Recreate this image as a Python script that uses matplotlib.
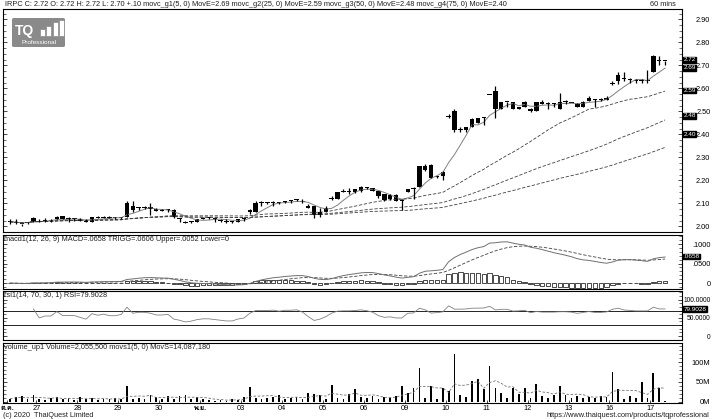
import numpy as np
import pandas as pd
import matplotlib
matplotlib.use('Agg')
import matplotlib.pyplot as plt
import matplotlib.transforms as mtransforms
from matplotlib import font_manager, ft2font
from matplotlib.patches import FancyBboxPatch, Rectangle

# find an installed face that has Thai letters for the month labels
thai_family = None
for fe in font_manager.fontManager.ttflist:
    try:
        if 0x0E04 in ft2font.FT2Font(fe.fname).get_charmap():
            thai_family = fe.name
            break
    except Exception:
        pass
families = ['Liberation Sans', 'DejaVu Sans']
if thai_family:
    families.insert(1, thai_family)
plt.rcParams['font.family'] = families

W, H = 712, 419

# ---- data (IRPC, 60 min bars) ----
day_labels = ['ต.ค.', '27', '28', '29', '30', 'พ.ย.', '03', '04', '05', '06',
              '09', '10', '11', '12', '13', '16', '17']
day_starts = [0, 5, 12, 19, 26, 33, 40, 47, 54, 61, 68, 75, 82, 89, 96, 103, 110]

opens = [2.02, 2.02, 2.01, 2.015, 2.02,
         2.025, 2.025, 2.025, 2.03, 2.045, 2.03, 2.03,
         2.03, 2.025, 2.02, 2.04, 2.035, 2.04, 2.035,
         2.035, 2.04, 2.09, 2.08, 2.08, 2.085, 2.075,
         2.07, 2.07, 2.07, 2.03, 2.02, 2.02, 2.02,
         2.03, 2.035, 2.03, 2.025, 2.025, 2.02, 2.02,
         2.03, 2.06, 2.06, 2.10, 2.10, 2.10, 2.10,
         2.105, 2.11, 2.115, 2.11, 2.09, 2.09, 2.05,
         2.06, 2.12, 2.12, 2.15, 2.15, 2.15, 2.155,
         2.165, 2.165, 2.155, 2.14, 2.135, 2.135, 2.115,
         2.15, 2.16, 2.17, 2.26, 2.265, 2.215, 2.22,
         2.48, 2.50, 2.42, 2.42, 2.43, 2.45, 2.47,
         2.57, 2.59, 2.51, 2.54, 2.54, 2.51, 2.52,
         2.51, 2.50, 2.54, 2.53, 2.53, 2.51, 2.54,
         2.535, 2.53, 2.52, 2.545, 2.55, 2.55, 2.55,
         2.62, 2.63, 2.64, 2.635, 2.63, 2.63, 2.63,
         2.67, 2.72, 2.72]
highs = [2.03, 2.03, 2.01, 2.02, 2.04,
         2.03, 2.035, 2.03, 2.045, 2.045, 2.04, 2.035,
         2.035, 2.03, 2.04, 2.045, 2.045, 2.045, 2.04,
         2.04, 2.11, 2.11, 2.085, 2.09, 2.10, 2.08,
         2.075, 2.075, 2.075, 2.035, 2.025, 2.025, 2.03,
         2.04, 2.04, 2.035, 2.03, 2.03, 2.025, 2.03,
         2.04, 2.075, 2.11, 2.11, 2.105, 2.11, 2.105,
         2.11, 2.115, 2.12, 2.12, 2.095, 2.09, 2.08,
         2.09, 2.13, 2.15, 2.16, 2.165, 2.16, 2.175,
         2.17, 2.165, 2.155, 2.14, 2.14, 2.14, 2.12,
         2.16, 2.17, 2.26, 2.27, 2.27, 2.22, 2.24,
         2.49, 2.51, 2.43, 2.43, 2.47, 2.47, 2.475,
         2.57, 2.61, 2.54, 2.54, 2.54, 2.52, 2.545,
         2.515, 2.54, 2.55, 2.54, 2.535, 2.58, 2.55,
         2.535, 2.535, 2.545, 2.565, 2.555, 2.56, 2.565,
         2.63, 2.67, 2.67, 2.645, 2.64, 2.64, 2.68,
         2.745, 2.74, 2.72]
lows = [2.01, 2.01, 2.00, 2.01, 2.02,
        2.02, 2.02, 2.02, 2.03, 2.03, 2.02, 2.025,
        2.025, 2.02, 2.02, 2.035, 2.035, 2.035, 2.03,
        2.03, 2.04, 2.06, 2.07, 2.075, 2.05, 2.065,
        2.065, 2.06, 2.035, 2.02, 2.015, 2.015, 2.02,
        2.03, 2.03, 2.02, 2.02, 2.015, 2.015, 2.02,
        2.025, 2.055, 2.06, 2.09, 2.095, 2.09, 2.095,
        2.10, 2.10, 2.11, 2.10, 2.08, 2.035, 2.04,
        2.06, 2.115, 2.12, 2.15, 2.14, 2.145, 2.15,
        2.16, 2.155, 2.125, 2.11, 2.115, 2.11, 2.07,
        2.15, 2.12, 2.17, 2.24, 2.21, 2.21, 2.20,
        2.47, 2.41, 2.41, 2.41, 2.43, 2.45, 2.44,
        2.57, 2.47, 2.51, 2.52, 2.51, 2.51, 2.52,
        2.495, 2.50, 2.53, 2.51, 2.52, 2.51, 2.53,
        2.535, 2.52, 2.52, 2.545, 2.52, 2.545, 2.55,
        2.615, 2.62, 2.63, 2.625, 2.625, 2.625, 2.625,
        2.67, 2.70, 2.70]
closes = [2.02, 2.015, 2.01, 2.02, 2.035,
          2.02, 2.025, 2.025, 2.04, 2.03, 2.03, 2.03,
          2.025, 2.02, 2.04, 2.035, 2.04, 2.035, 2.035,
          2.04, 2.10, 2.07, 2.08, 2.08, 2.075, 2.065,
          2.065, 2.07, 2.04, 2.03, 2.015, 2.02, 2.03,
          2.035, 2.035, 2.03, 2.025, 2.02, 2.02, 2.03,
          2.035, 2.07, 2.10, 2.10, 2.10, 2.105, 2.10,
          2.11, 2.11, 2.115, 2.105, 2.08, 2.05, 2.06,
          2.08, 2.12, 2.15, 2.155, 2.155, 2.16, 2.17,
          2.165, 2.155, 2.13, 2.115, 2.12, 2.11, 2.11,
          2.16, 2.165, 2.26, 2.245, 2.21, 2.22, 2.235,
          2.475, 2.42, 2.42, 2.43, 2.465, 2.47, 2.475,
          2.57, 2.51, 2.54, 2.54, 2.51, 2.52, 2.54,
          2.50, 2.54, 2.53, 2.53, 2.53, 2.54, 2.54,
          2.535, 2.52, 2.54, 2.56, 2.55, 2.55, 2.56,
          2.625, 2.66, 2.64, 2.635, 2.63, 2.63, 2.63,
          2.74, 2.72, 2.72]
# volume in millions of shares
volumes = [8, 12, 14, 6, 16, 8, 5, 10, 12, 6,
           10, 4, 12, 6, 10, 5, 8, 6, 9, 6,
           40, 8, 10, 6, 18, 12, 8, 14, 6, 14,
           16, 8, 12, 6, 4, 3, 5, 3, 8, 5,
           12, 37, 10, 8, 10, 12, 18, 6, 10, 12,
           6, 22, 20, 18, 6, 42, 10, 8, 20, 32,
           12, 10, 14, 8, 12, 10, 14,
           39, 23, 35, 84, 10, 39, 6, 35, 27, 120,
           16, 13, 53, 57, 31, 89, 35, 21, 10, 35,
           19, 35, 10, 45, 15, 10, 16, 39, 16, 10,
           15, 10, 13, 10, 15, 13, 76, 32, 8, 15,
           10, 51, 10, 72, 35, 2.06]

ma_periods = [5, 25, 50, 75]
ma_last = [2.69, 2.59, 2.48, 2.40]
macd_last = 0.0658
rsi_last = 79.9028

header = ("IRPC C: 2.72 O: 2.72 H: 2.72 L: 2.70 +.10 movc_g1(5, 0) MovE=2.69 "
          "movc_g2(25, 0) MovE=2.59 movc_g3(50, 0) MovE=2.48 movc_g4(75, 0) MovE=2.40")
macd_title = "macd1(12, 26, 9) MACD=.0658 TRIGG=.0606 Upper=.0052 Lower=0"
rsi_title = "rsi1(14, 70, 30, 1) RSI=79.9028"
vol_title = "volume_up1 Volume=2,055,500 movs1(5, 0) MovS=14,087,180"

# ---- derived series ----
c = pd.Series(closes)
x = np.arange(len(closes))
mas = [c.rolling(n, min_periods=1).mean() for n in ma_periods]
ema12 = c.ewm(span=12, adjust=False).mean()
ema26 = c.ewm(span=26, adjust=False).mean()
macd = ema12 - ema26
trigg = macd.ewm(span=9, adjust=False).mean()
hist = macd - trigg
d = c.diff()
up = d.clip(lower=0).ewm(alpha=1 / 14, min_periods=4).mean()
dn = (-d.clip(upper=0)).ewm(alpha=1 / 14, min_periods=4).mean()
rsi = 100 * up / (up + dn)
vol = pd.Series(volumes)
vol_ma = vol.rolling(5, min_periods=1).mean()

FS = 5.3
TAG_FS = 4.6
fig = plt.figure(figsize=(W / 100, H / 100), dpi=100)


def px_axes(x0, y0, x1, y1):
    return fig.add_axes([x0 / W, 1 - y1 / H, (x1 - x0) / W, (y1 - y0) / H])


LEFT, RIGHT = 3, 682
ax_p = px_axes(LEFT, 9, RIGHT, 232)
ax_m = px_axes(LEFT, 235, RIGHT, 289)
ax_r = px_axes(LEFT, 291, RIGHT, 340)
ax_v = px_axes(LEFT, 343, RIGHT, 403)

for ax in (ax_p, ax_m, ax_r, ax_v):
    ax.set_xlim(-1.2, 114.9)
    for s in ax.spines.values():
        s.set_linewidth(0.8)
    ax.yaxis.tick_right()
    ax.tick_params(axis='y', which='both', direction='in', labelsize=FS,
                   left=True, right=True, pad=20.5)
    ax.tick_params(axis='y', which='major', length=3, width=0.5)
    ax.tick_params(axis='y', which='minor', length=2, width=0.4)
    ax.tick_params(axis='x', which='both', bottom=False, labelbottom=False)

# price panel
styles = [dict(color='#808080', lw=0.7, ls='-'),
          dict(color='#404040', lw=0.6, ls=(0, (4, 2))),
          dict(color='#404040', lw=0.6, ls=(0, (4, 2))),
          dict(color='#404040', lw=0.6, ls=(0, (4, 2)))]
for m, st in zip(mas, styles):
    ax_p.plot(x, m, **st)
ax_p.vlines(x, lows, highs, color='black', lw=0.9)
o = np.array(opens)
cl = np.array(closes)
body_lo = np.minimum(o, cl)
body_h = np.maximum(np.abs(cl - o), 0.004)
ax_p.bar(x, body_h, bottom=body_lo, width=0.75, color='black', linewidth=0)
ax_p.set_ylim(1.975, 2.945)
ax_p.set_yticks(np.arange(2.0, 2.91, 0.1))
ax_p.set_yticklabels([f"{v:.2f}" for v in np.arange(2.0, 2.91, 0.1)])
ax_p.set_yticks(np.arange(1.975, 2.95, 0.025), minor=True)

# MACD panel
ax_m.bar(x, hist, width=0.75, facecolor='white', edgecolor='black', linewidth=0.5)
ax_m.plot(x, trigg, color='#404040', lw=0.6, ls=(0, (4, 2)))
ax_m.plot(x, macd, color='#707070', lw=0.7)
ax_m.set_ylim(-0.015, 0.123)
ax_m.set_yticks([0, 0.05, 0.1])
ax_m.set_yticklabels(['0', '.0500', '.1000'])
ax_m.set_yticks(np.arange(-0.01, 0.121, 0.01), minor=True)

# RSI panel
ax_r.axhline(70, color='black', lw=0.6)
ax_r.axhline(30, color='black', lw=0.6)
ax_r.plot(x, rsi, color='#808080', lw=0.6)
ax_r.set_ylim(-11, 124)
ax_r.set_yticks([0, 50, 100])
ax_r.set_yticklabels(['0', '50.0000', '100.0000'])
ax_r.set_yticks(np.arange(-10, 121, 10), minor=True)

# volume panel
ax_v.bar(x, vol, width=0.3, color='black', linewidth=0)
ax_v.plot(x, vol_ma, color='#707070', lw=0.6, ls=(0, (3, 2)))
ax_v.set_ylim(-3, 148)
ax_v.set_yticks([0, 50, 100])
ax_v.set_yticklabels(['0M', '50M', '100M'])
ax_v.set_yticks(np.arange(0, 141, 10), minor=True)
ax_v.set_xticks(np.array(day_starts) - 0.5)
ax_v.set_xticklabels(day_labels)
ax_v.tick_params(axis='x', which='major', bottom=True, labelbottom=True,
                 direction='in', length=2, width=0.5, labelsize=FS, pad=1.5)
for lab, txt in zip(ax_v.get_xticklabels(), day_labels):
    if not txt.isdigit():
        lab.set_fontweight('bold')

for ax in (ax_p, ax_m, ax_r, ax_v):
    for lab in ax.get_yticklabels():
        lab.set_horizontalalignment('right')
for lab in ax_r.get_yticklabels():
    lab.set_fontsize(4.8)

# panel titles
for ax, t in ((ax_m, macd_title), (ax_r, rsi_title), (ax_v, vol_title)):
    ax.text(0.002, 0.985, t, transform=ax.transAxes, fontsize=FS,
            va='top', ha='left', color='#202020')
fig.text(5 / W, 1 - 1 / H, header, fontsize=FS, va='top', ha='left', color='#202020')
fig.text(650 / W, 1 - 1 / H, "60 mins", fontsize=FS, va='top', ha='left', color='#202020')
fig.text(3 / W, 1 - 412 / H, "(c) 2020  ThaiQuest Limited", fontsize=FS, va='top',
         ha='left', color='#202020')
fig.text(709 / W, 1 - 412 / H, "https://www.thaiquest.com/products/tqprofessional",
         fontsize=FS, va='top', ha='right', color='#202020')

# boxed value labels on the right axis
box = dict(boxstyle='square,pad=0.06', fc='black', ec='black')


def value_tag(ax, y, text):
    tr = mtransforms.blended_transform_factory(ax.transAxes, ax.transData)
    ax.text(1.002, y, text, transform=tr, fontsize=TAG_FS, color='white', va='center',
            ha='left', bbox=box, clip_on=False)


value_tag(ax_p, closes[-1] + 0.004, f"{closes[-1]:.2f}")
for v in ma_last:
    value_tag(ax_p, v, f"{v:.2f}")
value_tag(ax_m, macd_last + 0.002, ".0658")
value_tag(ax_r, rsi_last - 6, f"{rsi_last:.4f}")

# TQ Professional logo
fig.patches.append(FancyBboxPatch((12 / W, 1 - 47 / H), 53 / W, 29 / H,
                                  boxstyle='round,pad=0,rounding_size=0.003',
                                  transform=fig.transFigure, fc='#8a8a8a', ec='none'))
fig.text(15 / W, 1 - 31 / H, "TQ", fontsize=10, fontweight='bold', color='white',
         va='center', ha='left')
for bx, by, bh in [(40, 29, 7), (46, 26, 10), (53, 22, 14), (59, 20, 16)]:
    fig.patches.append(Rectangle((bx / W, 1 - (by + bh) / H), 5 / W, bh / H,
                                 transform=fig.transFigure, fc='white', ec='#8a8a8a',
                                 lw=0.5))
fig.text(38.5 / W, 1 - 43 / H, "Professional", fontsize=4.6, color='white',
         va='center', ha='center')

fig.savefig('out.png', dpi=100)
